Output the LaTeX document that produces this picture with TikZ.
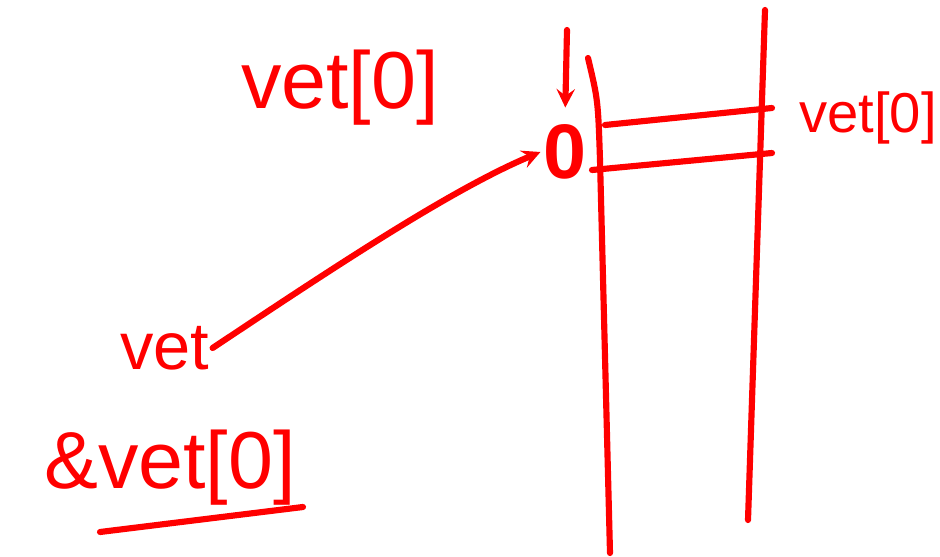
\documentclass[tikz,border=0pt]{standalone}
\usepackage{fontspec}
\setmainfont{Liberation Sans}
\usepackage{tikz}

\begin{document}
\begin{tikzpicture}[x=0.02cm,y=-0.02cm,>=stealth,line width=3.5pt,line cap=round,red]
\useasboundingbox (0,0) rectangle (940,557);
% labels
\node[inner sep=0pt] (title) at (340,88) {\fontsize{46}{46}\selectfont vet[0]};
\node[inner sep=0pt] (zero) at (565,152) {\fontsize{44}{44}\selectfont\bfseries 0};
\node[inner sep=0pt] (cell) at (868,118) {\fontsize{32}{32}\selectfont vet[0]};
\node[inner sep=0pt] (ptr) at (165,348) {\fontsize{38}{38}\selectfont vet};
\node[inner sep=0pt] (addr) at (170,468) {\fontsize{46}{46}\selectfont \&vet[0]};
% array
\draw (588,58) .. controls (598,100) .. (600,160) -- (610,553);
\draw (765,10) -- (748,520);
\draw (605,125) -- (772,108);
\draw (592,170) -- (772,153);
% arrows
\coordinate (tick) at (567,30);
\draw[->,shorten >=8pt] (tick) -- (zero.north);
\draw[->] (ptr.east) .. controls (330,270) and (450,190) .. (zero.west);
\draw (100,532) -- (303,507);
\end{tikzpicture}
\end{document}
